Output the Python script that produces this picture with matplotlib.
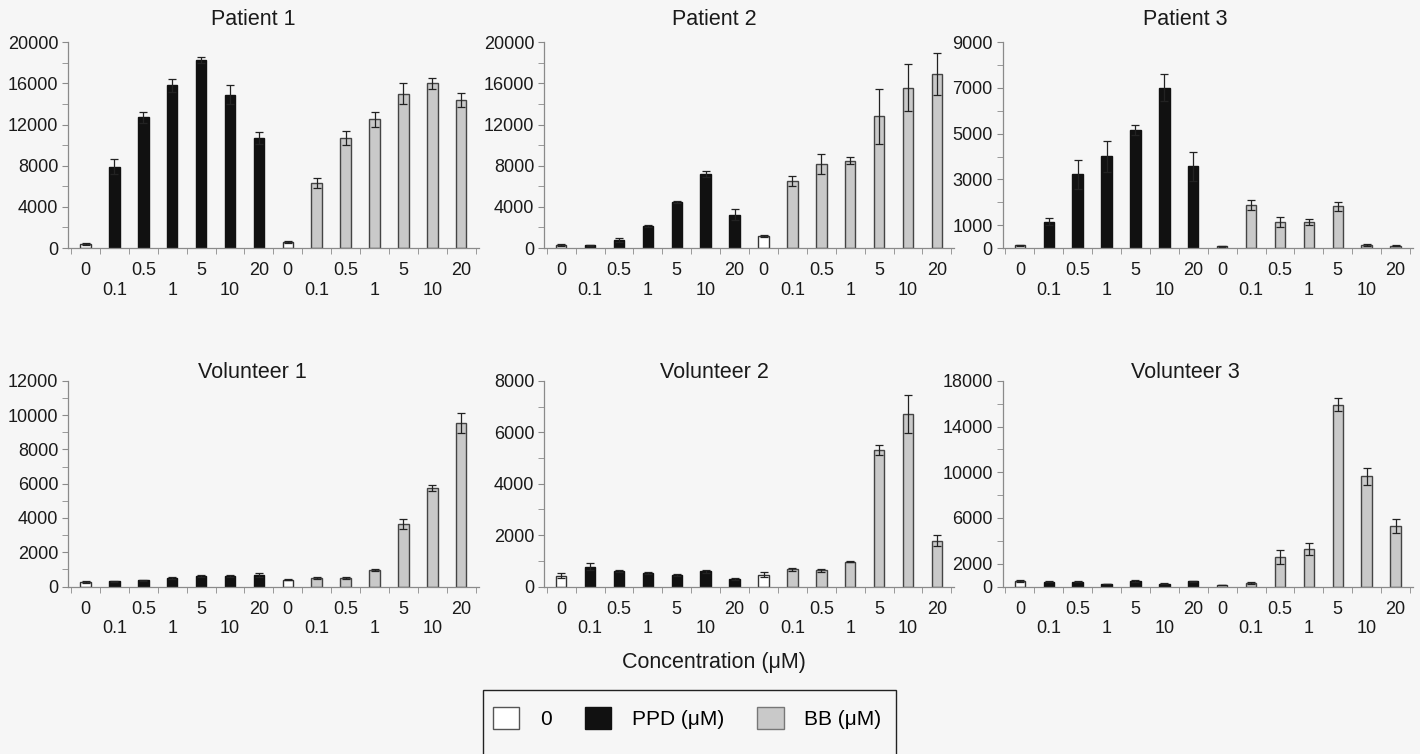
import numpy as np
import matplotlib
matplotlib.use('Agg')
import matplotlib.pyplot as plt
from matplotlib.patches import Patch, Rectangle

plt.rcParams['font.family'] = ['Liberation Sans', 'DejaVu Sans']

# categories on each x axis: control, PPD series, control, BB series
conc = ['0', '0.1', '0.5', '1', '5', '10', '20']
labels = conc + conc
lower_row = {'0.1', '1', '10'}
kinds = ['ctrl'] + ['ppd'] * 6 + ['ctrl'] + ['bb'] * 6

titles = ['Patient 1', 'Patient 2', 'Patient 3',
          'Volunteer 1', 'Volunteer 2', 'Volunteer 3']

p1 = [400, 7900, 12700, 15800, 18300, 14900, 10700,
      600, 6300, 10700, 12500, 15000, 16000, 14400]
p1_err = [100, 750, 500, 650, 300, 900, 550,
          100, 500, 700, 700, 1000, 500, 700]

p2 = [320, 250, 800, 2100, 4450, 7200, 3250,
      1150, 6500, 8200, 8500, 12800, 15600, 16900]
p2_err = [80, 60, 200, 100, 100, 300, 500,
          100, 500, 970, 320, 2650, 2330, 2040]

p3 = [120, 1160, 3220, 4010, 5160, 7010, 3570,
      70, 1880, 1160, 1140, 1830, 120, 100]
p3_err = [30, 150, 620, 670, 230, 600, 640,
          20, 220, 220, 120, 200, 40, 30]

v1 = [260, 300, 360, 520, 600, 620, 700,
      400, 480, 500, 950, 3650, 5750, 9550]
v1_err = [40, 40, 50, 60, 60, 70, 120,
          40, 60, 60, 60, 300, 160, 600]

v2 = [420, 780, 620, 530, 460, 600, 300,
      460, 670, 630, 970, 5300, 6700, 1780]
v2_err = [90, 130, 40, 40, 40, 60, 30,
          90, 50, 60, 30, 190, 740, 220]

v3 = [520, 440, 440, 230, 500, 260, 470,
      150, 350, 2600, 3300, 15900, 9650, 5300]
v3_err = [80, 60, 60, 40, 60, 50, 60,
          30, 80, 580, 530, 580, 730, 580]

values = [p1, p2, p3, v1, v2, v3]
errors = [p1_err, p2_err, p3_err, v1_err, v2_err, v3_err]
ymax = [20000, 20000, 9000, 12000, 8000, 18000]
major = [np.arange(0, 20001, 4000), np.arange(0, 20001, 4000),
         [0, 1000, 3000, 5000, 7000, 9000],
         np.arange(0, 12001, 2000), np.arange(0, 8001, 2000),
         [0, 2000, 6000, 10000, 14000, 18000]]
minor = [np.arange(0, 20001, 2000), np.arange(0, 20001, 2000),
         np.arange(0, 9001, 1000), np.arange(0, 12001, 1000),
         np.arange(0, 8001, 1000), np.arange(0, 18001, 2000)]

bg = '#f6f6f6'
face = {'ctrl': '#ffffff', 'ppd': '#111111', 'bb': '#c9c9c9'}
edge = {'ctrl': '#333333', 'ppd': '#111111', 'bb': '#444444'}
axis_col = '#8a8a8a'
txt = '#1a1a1a'

fig = plt.figure(figsize=(14.2, 7.54), dpi=100, facecolor=bg)

lefts = [0.048, 0.383, 0.706]
bottoms = [0.671, 0.222]
w, h = 0.289, 0.273
title_x = [0.178, 0.503, 0.835]
title_y = [0.974, 0.506]

x = np.arange(len(labels))
for k in range(6):
    r, c = divmod(k, 3)
    ax = fig.add_axes([lefts[c], bottoms[r], w, h])
    ax.set_facecolor(bg)
    fc = [face[t] for t in kinds]
    ec = [edge[t] for t in kinds]
    ax.bar(x, values[k], width=0.36, color=fc, edgecolor=ec, linewidth=1.0)
    ax.errorbar(x, values[k], yerr=errors[k], fmt='none', ecolor='#222222',
                elinewidth=0.9, capsize=3, capthick=0.9)
    ax.set_xlim(-0.6, 13.6)
    ax.set_ylim(0, ymax[k])
    ax.set_yticks(major[k])
    ax.set_yticks(minor[k], minor=True)
    ax.tick_params(axis='y', which='both', direction='out', length=4,
                   color=axis_col, labelsize=13, labelcolor=txt, pad=3)
    ax.set_xticks(x)
    ax.set_xticklabels([('\n' + s) if s in lower_row else s for s in labels],
                       fontsize=13, color=txt, va='top')
    ax.tick_params(axis='x', which='major', length=0, pad=10)
    ax.set_xticks(np.arange(-0.5, 14, 1), minor=True)
    ax.tick_params(axis='x', which='minor', direction='out', length=4,
                   color=axis_col)
    for s in ['top', 'right']:
        ax.spines[s].set_visible(False)
    for s in ['left', 'bottom']:
        ax.spines[s].set_color(axis_col)
        ax.spines[s].set_linewidth(0.9)
    fig.text(title_x[c], title_y[r], titles[k], ha='center', va='center',
             fontsize=15.5, color=txt)

fig.text(0.503, 0.122, 'Concentration (\u03bcM)', ha='center', va='center',
         fontsize=15.5, color=txt)

fig.patches.append(Rectangle((0.340, -0.05), 0.291, 0.135,
                             transform=fig.transFigure, fill=False,
                             edgecolor='#222222', linewidth=1.0))
handles = [Patch(facecolor=face['ctrl'], edgecolor='#555555', label='0'),
           Patch(facecolor=face['ppd'], edgecolor='#111111', label='PPD (\u03bcM)'),
           Patch(facecolor=face['bb'], edgecolor='#777777', label='BB (\u03bcM)')]
fig.legend(handles=handles, loc='center', bbox_to_anchor=(0.484, 0.048),
           ncol=3, frameon=False, fontsize=15, handlelength=1.25,
           handleheight=1.25, columnspacing=1.6, handletextpad=1.0)

fig.savefig('out.png', dpi=100, facecolor=bg)
